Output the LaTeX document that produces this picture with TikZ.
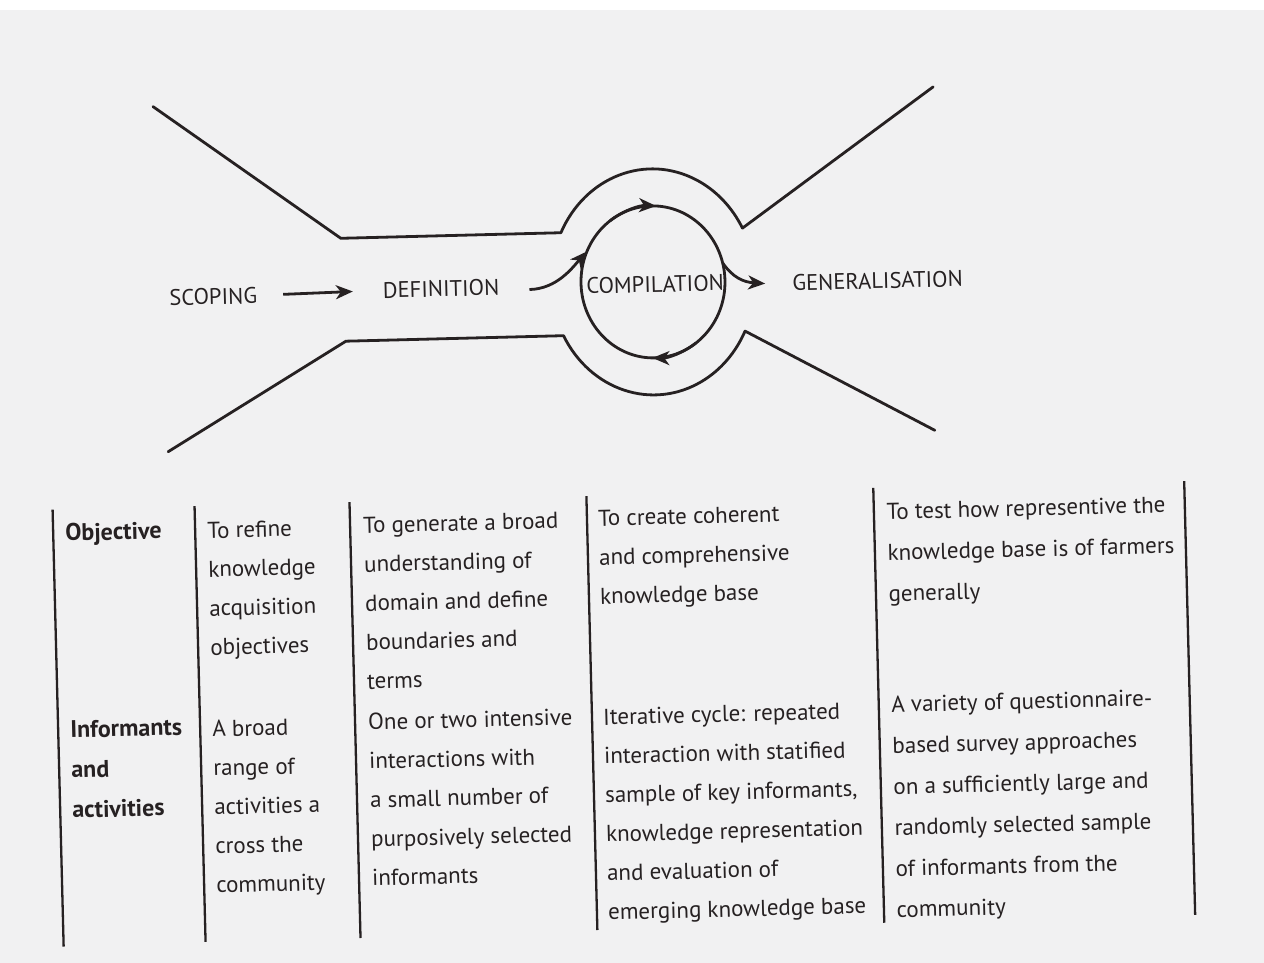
\documentclass[tikz,border=0pt]{standalone}
\usepackage{fontspec}
\setmainfont{PT Sans}
\usetikzlibrary{arrows.meta}
\definecolor{ink}{RGB}{38,33,34}
\definecolor{paper}{RGB}{241,241,242}
\begin{document}
\begin{tikzpicture}[x=1pt,y=-1pt,
  ln/.style={draw=ink,line width=2.8pt,line cap=round,line join=round},
  arr/.style={draw=ink,line width=2.8pt,-{Stealth[length=17pt,width=14pt,inset=5pt]}},
  lbl/.style={inner sep=0pt,text=ink,font=\fontsize{22.5}{26}\selectfont},
  cell/.style={anchor=north west,inner sep=0pt,align=left,text=ink,font=\fontsize{23}{39}\selectfont},
  cellw/.style={cell,font=\fontsize{23}{41}\selectfont},
  cellb/.style={cell,font=\fontsize{24}{40}\selectfont\bfseries},
  rule/.style={draw=ink,line width=2.3pt}]
\fill[paper] (0,0) rectangle (1264,963);
\fill[white] (0,0) rectangle (1264,10);
\useasboundingbox (0,0) rectangle (1264,963);
\begin{scope}[rotate around={1.45:(632,480)},transform shape]
  % ---------- funnel ----------
  \coordinate (c) at (658,282.5);
  \coordinate (ul0) at (162.6,94.6);
  \coordinate (ulb) at (347,231);
  \coordinate (ulj) at (567.2,231);
  \coordinate (ur0) at (943,94.6);
  \coordinate (ll0) at (169,440);
  \coordinate (llb) at (349.5,334);
  \coordinate (llj) at (567.2,334);
  \coordinate (lr0) at (936,438);
  \draw[ln] (ul0) -- (ulb) -- (ulj)
     arc[start angle=-152.9,end angle=-27.1,x radius=102,y radius=113] -- (ur0);
  \draw[ln] (ll0) -- (llb) -- (llj)
     arc[start angle=152.9,end angle=27.1,x radius=102,y radius=113] -- (lr0);
  % ---------- inner cycle ----------
  \draw[ln] (c) ellipse [x radius=72,y radius=76];
  \draw[arr] (c) ++(-125:72 and 76) arc[start angle=-125,end angle=-86,x radius=72,y radius=76];
  \draw[arr] (c) ++(55:72 and 76) arc[start angle=55,end angle=92,x radius=72,y radius=76];
  % ---------- labels ----------
  \node[lbl] (scop) at (218,286) {SCOPING};
  \node[lbl] (def) at (446,284) {DEFINITION};
  \node[lbl] (comp) at (660,285) {COMPILATION};
  \node[lbl] (gen) at (882.5,287) {GENERALISATION};
  \coordinate (cin) at (592.7,250.4);
  \coordinate (cout) at (728.2,265.4);
  \draw[arr,shorten <=26pt,shorten >=30pt] (scop.east) -- (def.west);
  \draw[arr] ([xshift=30pt,yshift=-3pt]def.east) .. controls (562,287) and (578,266) .. (cin);
  \draw[arr] (cout) .. controls (738,280) and (748,285) .. ([xshift=-27pt]gen.west);
  % ---------- table rules ----------
  \draw[rule] (52,495) -- (52,932);
  \draw[rule] (194,495) -- (194,931);
  \draw[rule] (349,495) -- (349,931);
  \draw[rule] (586,495) -- (586,929);
  \draw[rule] (873,494) -- (873,929);
  \draw[rule] (1184,495) -- (1184,929);
  % ---------- table text ----------
  \node[cellb] (obj) at (64,498.4) {\strut Objective};
  \node[cellb] (inf) at (64,695.5) {\strut Informants\\and\\activities};
  \node[cell] (c2a) at (206,500) {\strut To refine\\knowledge\\acquisition\\objectives};
  \node[cell] (c2b) at (206,698.7) {\strut A broad\\range of\\activities a\\cross the\\community};
  \node[cell] (c3a) at (362,498.9) {\strut To generate a broad\\understanding of\\domain and define\\boundaries and\\terms};
  \node[cell] (c3b) at (362,695.7) {\strut One or two intensive\\interactions with\\a small number of\\purposively selected\\informants};
  \node[cell] (c4a) at (597,497.8) {\strut To create coherent\\and comprehensive\\knowledge base};
  \node[cell] (c4b) at (597,696.7) {\strut Iterative cycle: repeated\\interaction with statified\\sample of key informants,\\knowledge representation\\and evaluation of\\emerging knowledge base};
  \node[cellw] (c5a) at (885.5,497) {\strut To test how representive the\\knowledge base is of farmers\\generally};
  \node[cellw] (c5b) at (885.5,690) {\strut A variety of questionnaire-\\based survey approaches\\on a sufficiently large and\\randomly selected sample\\of informants from the\\community};
\end{scope}
\end{tikzpicture}
\end{document}
